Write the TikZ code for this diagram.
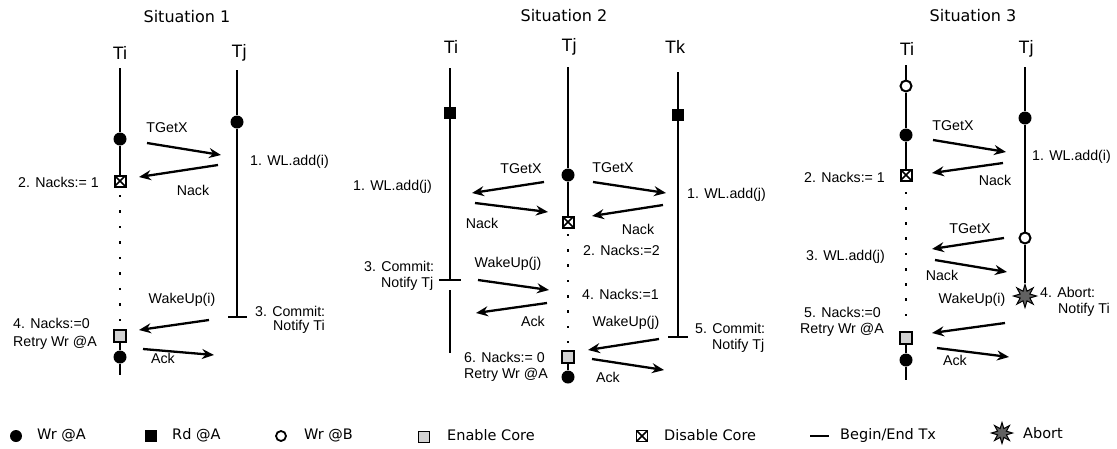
\documentclass[tikz,border=0pt]{standalone}
\usepackage{fontspec}
\setmainfont{Liberation Sans}
\newfontfamily\dejavu{DejaVu Sans}
\usetikzlibrary{arrows.meta,shapes.geometric}

\tikzset{
  lbl/.style={font=\fontsize{14.2}{16}\selectfont, inner sep=0pt},
  lblw/.style={lbl, anchor=west},
  txname/.style={font=\fontsize{18}{20}\selectfont, inner sep=0pt},
  ttl/.style={font=\dejavu\fontsize{16}{18}\selectfont, inner sep=0pt},
  leg/.style={font=\dejavu\fontsize{14.5}{16}\selectfont, inner sep=0pt, anchor=west},
  life/.style={line width=2.3pt},
  msg/.style={line width=2.3pt, -{Stealth[length=12pt,width=10pt,inset=4pt]}},
  wrA/.style={circle, fill=black, minimum size=13pt, inner sep=0pt},
  rdA/.style={rectangle, fill=black, minimum size=12.5pt, inner sep=0pt},
  wrB/.style={circle, draw=black, fill=white, line width=2pt, minimum size=11pt, inner sep=0pt},
  encore/.style={rectangle, draw=black, fill=black!18, line width=2pt, minimum size=11.5pt, inner sep=0pt},
  discore/.style={rectangle, draw=black, fill=white, line width=2pt, minimum size=11pt, inner sep=0pt,
    path picture={\draw[line width=1.5pt] (path picture bounding box.south west) -- (path picture bounding box.north east)
      (path picture bounding box.north west) -- (path picture bounding box.south east);}},
  pause/.style={rectangle, fill=black, minimum size=2.6pt, inner sep=0pt},
  abortmark/.style={star, star points=8, star point ratio=2.2, draw=black, fill=black!62, line width=1pt,
    minimum size=23pt, inner sep=0pt},
  barcap/.style={line width=2.3pt},
}

\begin{document}
\begin{tikzpicture}[x=1pt, y=-1pt]
\useasboundingbox (0,0) rectangle (1117,448);

% ---------------- Situation 1 ----------------
\node[ttl] (t1) at (187,17) {Situation 1};
\node[txname] (s1i) at (120,53) {Ti};
\node[txname] (s1j) at (239,53) {Tj};

\coordinate (s1iTop) at (120,68);
\node[wrA] (s1iW1) at (120,139) {};
\node[discore] (s1iD) at (120,181) {};
\node[encore] (s1iE) at (120,336) {};
\node[wrA] (s1iW2) at (120,357) {};
\coordinate (s1iBot) at (120,375);
\draw[life] (s1iTop) -- (s1iW1) -- (s1iD);
\draw[life] (s1iE) -- (s1iW2) -- (s1iBot);
\foreach \k in {0,...,8} \node[pause] (s1p\k) at (120,{196+15.5*\k}) {};

\coordinate (s1jTop) at (237,70);
\node[wrA] (s1jW) at (237,122) {};
\coordinate (s1jEnd) at (237,317);
\coordinate (s1jEndL) at (228,317);
\coordinate (s1jEndR) at (247,317);
\draw[life] (s1jTop) -- (s1jW) -- (s1jEnd);
\draw[barcap] (s1jEndL) -- (s1jEndR);

\coordinate (s1a1s) at (147,143); \coordinate (s1a1e) at (221,155);
\coordinate (s1a2s) at (218,165); \coordinate (s1a2e) at (139,177);
\coordinate (s1a3s) at (209,320); \coordinate (s1a3e) at (139,330);
\coordinate (s1a4s) at (143,349); \coordinate (s1a4e) at (214,355);
\draw[msg] (s1a1s) -- (s1a1e);
\draw[msg] (s1a2s) -- (s1a2e);
\draw[msg] (s1a3s) -- (s1a3e);
\draw[msg] (s1a4s) -- (s1a4e);

\node[lbl] (s1m1) at (167,128) {TGetX};
\node[lbl] (s1m2) at (193,190) {Nack};
\node[lbl] (s1m3) at (182,300) {WakeUp(i)};
\node[lbl] (s1m4) at (163,358) {Ack};
\node[lblw] (s1n1) at (250,162) {1. WL.add(i)};
\node[lblw] (s1n2) at (18,182) {2. Nacks:= 1};
\node[lblw] (s1n3a) at (255,311) {3. Commit:};
\node[lblw] (s1n3b) at (273,327) {Notify Ti};
\node[lblw] (s1n4a) at (13,323) {4. Nacks:=0};
\node[lblw] (s1n4b) at (13,343) {Retry Wr @A};

% ---------------- Situation 2 ----------------
\node[ttl] (t2) at (564,16) {Situation 2};
\node[txname] (s2i) at (451,47) {Ti};
\node[txname] (s2j) at (569,47) {Tj};
\node[txname] (s2k) at (675,47) {Tk};

\coordinate (s2iTop) at (450,68);
\node[rdA] (s2iR) at (450,113) {};
\coordinate (s2iEnd) at (450,280);
\coordinate (s2iEndL) at (439,280);
\coordinate (s2iEndR) at (461,280);
\coordinate (s2iNew) at (450,290);
\coordinate (s2iBot) at (450,353);
\draw[life] (s2iTop) -- (s2iR) -- (s2iEnd);
\draw[barcap] (s2iEndL) -- (s2iEndR);
\draw[life] (s2iNew) -- (s2iBot);

\coordinate (s2jTop) at (568,67);
\node[wrA] (s2jW1) at (568,175) {};
\node[discore] (s2jD) at (568,222) {};
\node[encore] (s2jE) at (568,357) {};
\node[wrA] (s2jW2) at (568,377) {};
\draw[life] (s2jTop) -- (s2jW1) -- (s2jD);
\draw[life] (s2jE) -- (s2jW2);
\foreach \k in {0,...,7} \node[pause] (s2p\k) at (568,{235+15.3*\k}) {};

\coordinate (s2kTop) at (678,72);
\node[rdA] (s2kR) at (678,115) {};
\coordinate (s2kEnd) at (678,337);
\coordinate (s2kEndL) at (668,337);
\coordinate (s2kEndR) at (688,337);
\draw[life] (s2kTop) -- (s2kR) -- (s2kEnd);
\draw[barcap] (s2kEndL) -- (s2kEndR);

\coordinate (s2a1s) at (544,182); \coordinate (s2a1e) at (472,193);
\coordinate (s2a2s) at (475,203); \coordinate (s2a2e) at (548,212);
\coordinate (s2a3s) at (593,182); \coordinate (s2a3e) at (666,193);
\coordinate (s2a4s) at (663,205); \coordinate (s2a4e) at (592,216);
\coordinate (s2a5s) at (478,280); \coordinate (s2a5e) at (549,290);
\coordinate (s2a6s) at (547,303); \coordinate (s2a6e) at (476,313);
\coordinate (s2a7s) at (659,339); \coordinate (s2a7e) at (588,350);
\coordinate (s2a8s) at (592,359); \coordinate (s2a8e) at (664,370);
\foreach \a in {1,...,8} \draw[msg] (s2a\a s) -- (s2a\a e);

\node[lbl] (s2m1) at (521,169) {TGetX};
\node[lbl] (s2m2) at (482,223) {Nack};
\node[lbl] (s2m3) at (613,168) {TGetX};
\node[lbl] (s2m4) at (638,229) {Nack};
\node[lbl] (s2m5) at (508,264) {WakeUp(j)};
\node[lbl] (s2m6) at (533,321) {Ack};
\node[lbl] (s2m7) at (626,323) {WakeUp(j)};
\node[lbl] (s2m8) at (608,377) {Ack};
\node[lblw] (s2n1a) at (353,187) {1. WL.add(j)};
\node[lblw] (s2n1b) at (687,195) {1. WL.add(j)};
\node[lblw] (s2n2) at (583,250) {2. Nacks:=2};
\node[lblw] (s2n3a) at (364,266) {3. Commit:};
\node[lblw] (s2n3b) at (381,284) {Notify Tj};
\node[lblw] (s2n4) at (582,294) {4. Nacks:=1};
\node[lblw] (s2n5a) at (695,328) {5. Commit:};
\node[lblw] (s2n5b) at (712,346) {Notify Tj};
\node[lblw] (s2n6a) at (464,357) {6. Nacks:= 0};
\node[lblw] (s2n6b) at (464,375) {Retry Wr @A};

% ---------------- Situation 3 ----------------
\node[ttl] (t3) at (973,16) {Situation 3};
\node[txname] (s3i) at (907,49) {Ti};
\node[txname] (s3j) at (1026,49) {Tj};

\coordinate (s3iTop) at (906,65);
\node[wrB] (s3iB) at (906,86) {};
\node[wrA] (s3iW1) at (906,135) {};
\node[discore] (s3iD) at (906,175) {};
\node[encore] (s3iE) at (906,338) {};
\node[wrA] (s3iW2) at (906,360) {};
\coordinate (s3iBot) at (906,380);
\draw[life] (s3iTop) -- (s3iB) -- (s3iW1) -- (s3iD);
\draw[life] (s3iE) -- (s3iW2) -- (s3iBot);
\foreach \k in {0,...,8} \node[pause] (s3p\k) at (906,{193+15.25*\k}) {};

\coordinate (s3jTop) at (1025,67);
\node[wrA] (s3jW) at (1025,118) {};
\node[wrB] (s3jB) at (1025,238) {};
\node[abortmark] (s3jX) at (1025,296) {};
\draw[life] (s3jTop) -- (s3jW) -- (s3jB) -- (s3jX);

\coordinate (s3a1s) at (933,140); \coordinate (s3a1e) at (1006,152);
\coordinate (s3a2s) at (1003,163); \coordinate (s3a2e) at (932,173);
\coordinate (s3a3s) at (1004,238); \coordinate (s3a3e) at (932,249);
\coordinate (s3a4s) at (935,260); \coordinate (s3a4e) at (1007,272);
\coordinate (s3a5s) at (1005,323); \coordinate (s3a5e) at (932,333);
\coordinate (s3a6s) at (937,348); \coordinate (s3a6e) at (1009,357);
\foreach \a in {1,...,6} \draw[msg] (s3a\a s) -- (s3a\a e);

\node[lbl] (s3m1) at (953,126) {TGetX};
\node[lbl] (s3m2) at (995,180) {Nack};
\node[lbl] (s3m3) at (970,229) {TGetX};
\node[lbl] (s3m4) at (942,275) {Nack};
\node[lbl] (s3m5) at (972,300) {WakeUp(i)};
\node[lbl] (s3m6) at (955,360) {Ack};
\node[lblw] (s3n1) at (1032,157) {1. WL.add(i)};
\node[lblw] (s3n2) at (804,177) {2. Nacks:= 1};
\node[lblw] (s3n3) at (806,257) {3. WL.add(j)};
\node[lblw] (s3n4a) at (1040,292) {4. Abort:};
\node[lblw] (s3n4b) at (1058,310) {Notify Ti};
\node[lblw] (s3n5a) at (804,312) {5. Nacks:=0};
\node[lblw] (s3n5b) at (800,330) {Retry Wr @A};

% ---------------- Legend ----------------
\node[wrA, minimum size=12pt] (lg1) at (16,436) {};
\node[leg] (lg1t) at (37,435) {Wr @A};
\node[rdA, minimum size=11.5pt] (lg2) at (151,436) {};
\node[leg] (lg2t) at (172,435) {Rd @A};
\node[wrB, line width=1.8pt, minimum size=10pt] (lg3) at (281,436) {};
\node[leg] (lg3t) at (304,435) {Wr @B};
\node[encore, line width=1.7pt, minimum size=11pt] (lg4) at (424,437) {};
\node[leg] (lg4t) at (447,435) {Enable Core};
\node[discore, line width=1.7pt, minimum size=11pt] (lg5) at (642,436) {};
\node[leg] (lg5t) at (664,435) {Disable Core};
\coordinate (lg6a) at (810,436); \coordinate (lg6b) at (829,436);
\draw[line width=2.2pt] (lg6a) -- (lg6b);
\node[leg] (lg6t) at (840,435) {Begin/End Tx};
\node[abortmark, minimum size=21pt] (lg7) at (1002,433) {};
\node[leg] (lg7t) at (1023,433) {Abort};
\end{tikzpicture}
\end{document}
